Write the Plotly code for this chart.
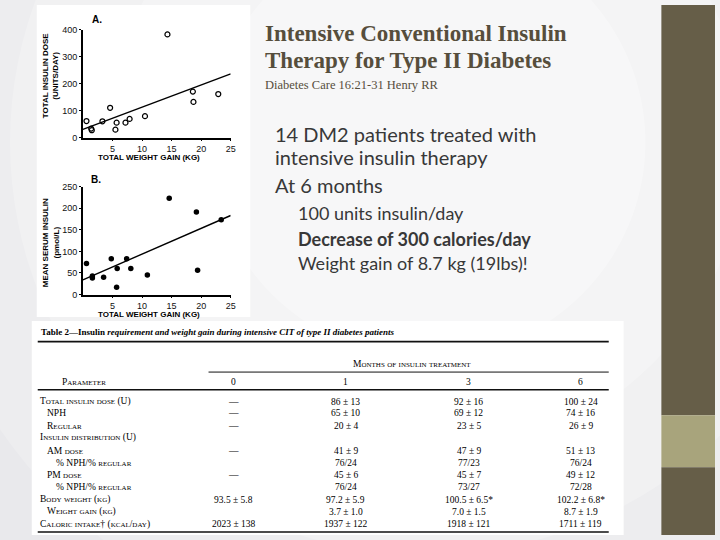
import plotly.graph_objects as go

W, H = 720, 540


def px(x):
    return x / W


def py(y):
    return 1 - y / H


# ---------------- data ----------------
# Panel A: total weight gain (kg) vs total insulin dose (units/day)
a_gain = [0.6, 1.4, 1.5, 3.3, 4.6, 5.5, 5.7, 7.2, 7.9, 10.5, 14.3, 18.6, 18.7, 22.9]
a_dose = [61, 33, 27, 60, 110, 29, 55, 55, 69, 79, 382, 170, 132, 161]
a_fit_x = [0, 25]
a_fit_y = [30, 236]

# Panel B: total weight gain (kg) vs mean serum insulin (pmol/L)
b_gain = [0.6, 1.6, 1.6, 3.5, 4.8, 5.7, 5.8, 7.4, 8.1, 10.9, 14.6, 19.2, 19.4, 23.4]
b_ins = [72, 43, 38, 40, 83, 17, 60, 83, 60, 45, 223, 191, 56, 173]
b_fit_x = [0, 25]
b_fit_y = [34, 183]

a_xticks = [5, 10, 15, 20, 25]
a_yticks = [0, 100, 200, 300, 400]
b_xticks = [5, 10, 15, 20, 25]
b_yticks = [0, 50, 100, 150, 200, 250]

# Table 2
table_params = ["Total insulin dose (U)", "NPH", "Regular", "Insulin distribution (U)",
                "AM dose", "% NPH/% regular", "PM dose", "% NPH/% regular",
                "Body weight (kg)", "Weight gain (kg)", "Caloric intake† (kcal/day)"]
table_indent = [0, 1, 1, 0, 1, 2, 1, 2, 0, 1, 0]
table_months = ["0", "1", "3", "6"]
month0 = ["—", "—", "—", "", "—", "", "—", "", "93.5 ± 5.8", "", "2023 ± 138"]
month1 = ["86 ± 13", "65 ± 10", "20 ± 4", "", "41 ± 9", "76/24", "45 ± 6", "76/24",
          "97.2 ± 5.9", "3.7 ± 1.0", "1937 ± 122"]
month3 = ["92 ± 16", "69 ± 12", "23 ± 5", "", "47 ± 9", "77/23", "45 ± 7", "73/27",
          "100.5 ± 6.5*", "7.0 ± 1.5", "1918 ± 121"]
month6 = ["100 ± 24", "74 ± 16", "26 ± 9", "", "51 ± 13", "76/24", "49 ± 12", "72/28",
          "102.2 ± 6.8*", "8.7 ± 1.9", "1711 ± 119"]

title_lines = ["Intensive Conventional Insulin", "Therapy for Type II Diabetes"]
subtitle = "Diabetes Care 16:21-31 Henry RR"
bullets_l1 = ["14 DM2 patients treated with", "intensive insulin therapy", "At 6 months"]
bullets_l2 = ["100 units insulin/day", "<b>Decrease of 300 calories/day</b>",
              "Weight gain of 8.7 kg (19lbs)!"]

# ---------------- figure ----------------
fig = go.Figure()

fig.add_trace(go.Scatter(x=a_gain, y=a_dose, mode="markers", xaxis="x", yaxis="y",
                         marker=dict(symbol="circle-open", size=5, color="black",
                                     line=dict(width=1.2, color="black")),
                         cliponaxis=False, showlegend=False))
fig.add_trace(go.Scatter(x=a_fit_x, y=a_fit_y, mode="lines", xaxis="x", yaxis="y",
                         line=dict(color="black", width=1.4), showlegend=False))
fig.add_trace(go.Scatter(x=b_gain, y=b_ins, mode="markers", xaxis="x2", yaxis="y2",
                         marker=dict(symbol="circle", size=5.5, color="black"),
                         cliponaxis=False, showlegend=False))
fig.add_trace(go.Scatter(x=b_fit_x, y=b_fit_y, mode="lines", xaxis="x2", yaxis="y2",
                         line=dict(color="black", width=1.4), showlegend=False))

axis_common = dict(showline=True, linecolor="black", linewidth=1.5, ticks="outside",
                   ticklen=2, tickwidth=1, tickcolor="black", showgrid=False,
                   zeroline=False, tickfont=dict(family="Liberation Sans, Arial", size=9,
                                                 color="#111"))

shapes = []
# slide background glow
for r, op in [(520, 0.18), (420, 0.22), (320, 0.25), (220, 0.3)]:
    cx, cy = 430, 140
    shapes.append(dict(type="circle", xref="paper", yref="paper",
                       x0=px(cx - r), x1=px(cx + r), y0=py(cy + r), y1=py(cy - r),
                       fillcolor="white", opacity=op, line=dict(width=0), layer="below"))
# white picture areas
shapes.append(dict(type="rect", xref="paper", yref="paper", x0=px(37), x1=px(252),
                   y0=py(318), y1=py(0), fillcolor="white", line=dict(width=0), layer="below"))
shapes.append(dict(type="rect", xref="paper", yref="paper", x0=px(32), x1=px(628),
                   y0=py(540), y1=py(322), fillcolor="white", line=dict(width=0), layer="below"))
# right decorative bars
for y0, y1, col in [(0, 418, "#665e48"), (418, 471, "#a8a47c"), (471, 540, "#665e48")]:
    shapes.append(dict(type="rect", xref="paper", yref="paper", x0=px(666), x1=1,
                       y0=py(y1), y1=py(y0), fillcolor=col, line=dict(width=0)))
# table rules
for x0, x1, yy, w in [(38, 613, 343, 1.6), (210, 613, 374, 1.0), (38, 613, 392, 1.6),
                      (38, 613, 537, 1.6)]:
    shapes.append(dict(type="line", xref="paper", yref="paper", x0=px(x0), x1=px(x1),
                       y0=py(yy), y1=py(yy), line=dict(color="#111", width=w)))

ann = []


def add_text(x, y, text, size, family, color="#000", xanchor="left",
             textangle=0, yanchor="middle"):
    ann.append(dict(x=px(x), y=py(y), xref="paper", yref="paper", text=text,
                    showarrow=False, xanchor=xanchor, yanchor=yanchor, textangle=textangle,
                    font=dict(size=size, family=family, color=color), align="center"))


SANS = "Liberation Sans, Arial"
SERIF = "Liberation Serif, Times New Roman"

# panel labels and axis titles
add_text(98, 15, "<b>A.</b>", 10, SANS, xanchor="center")
add_text(97, 178, "<b>B.</b>", 10, SANS, xanchor="center")
add_text(51, 72, "<b>TOTAL INSULIN DOSE<br>(UNITS/DAY)</b>", 8, SANS,
         xanchor="center", textangle=-90)
add_text(51, 242, "<b>MEAN SERUM INSULIN<br>(pmol/L)</b>", 8, SANS,
         xanchor="center", textangle=-90)
add_text(150, 155, "<b>TOTAL WEIGHT GAIN (KG)</b>", 8, SANS, xanchor="center")
add_text(150, 315, "<b>TOTAL WEIGHT GAIN (KG)</b>", 8, SANS, xanchor="center")

# slide title
TITLE_COL = "#564e3c"
add_text(265, 29, "<b>" + title_lines[0] + "</b>", 23, SERIF, color=TITLE_COL)
add_text(265, 57, "<b>" + title_lines[1] + "</b>", 23, SERIF, color=TITLE_COL)
add_text(265, 81, subtitle, 12.5, SERIF, color=TITLE_COL)

# bullets
BODY_COL = "#383838"
for i, t in enumerate(bullets_l1):
    add_text(275, [131, 155, 183][i], t, 20, "Lato, Carlito, Open Sans", color=BODY_COL)
for i, t in enumerate(bullets_l2):
    add_text(298, [212, 238, 263][i], t, 18, "Lato, Carlito, Open Sans", color=BODY_COL)


# table
def smallcaps(s, small=7.0):
    out = []
    for ch in s:
        if ch.islower():
            out.append('<span style="font-size:%spx">%s</span>' % (small, ch.upper()))
        else:
            out.append(ch)
    return "".join(out)


TS = 9.5
add_text(39, 333, "<b>Table 2—Insulin <i>requirement and weight gain during intensive CIT "
         "of type II diabetes patients</i></b>", 9, SERIF)
add_text(415, 366, smallcaps("Months of insulin treatment"), TS, SERIF, xanchor="center")
add_text(85, 384, smallcaps("Parameter"), TS, SERIF, xanchor="center")
col_x = [235, 348, 472, 585]
for cx, m in zip(col_x, table_months):
    add_text(cx, 384, m, TS, SERIF, xanchor="center")
row_y = [404, 416, 428.5, 441, 454, 467, 479, 491.5, 504, 516.5, 529]
indent_x = [38, 45, 54]
for i, (p, lvl) in enumerate(zip(table_params, table_indent)):
    add_text(indent_x[lvl], row_y[i], smallcaps(p), TS, SERIF)
    for cx, col in zip(col_x, [month0, month1, month3, month6]):
        if col[i]:
            add_text(cx, row_y[i], col[i], TS, SERIF, xanchor="center")

fig.update_layout(
    width=W, height=H, margin=dict(l=0, r=0, t=0, b=0),
    paper_bgcolor="#e9e9ec", plot_bgcolor="rgba(0,0,0,0)",
    xaxis=dict(domain=[px(83.5), px(232.3)], range=[0, 25], tickvals=a_xticks,
               anchor="y", **axis_common),
    yaxis=dict(domain=[py(135), py(25)], range=[0, 400], tickvals=a_yticks,
               anchor="x", **axis_common),
    xaxis2=dict(domain=[px(83.5), px(232.3)], range=[0, 25], tickvals=b_xticks,
                anchor="y2", **axis_common),
    yaxis2=dict(domain=[py(295), py(185)], range=[0, 250], tickvals=b_yticks,
                anchor="x2", **axis_common),
    shapes=shapes, annotations=ann, showlegend=False,
)

# pin the figure to the top-left corner of the page (no default body margin)
pin_js = ("document.body.style.margin='0';"
          "var d=document.getElementById('{plot_id}');"
          "d.style.position='fixed';d.style.left='0px';d.style.top='0px';")

fig.write_html("out.html", post_script=pin_js, config={"displayModeBar": False})
